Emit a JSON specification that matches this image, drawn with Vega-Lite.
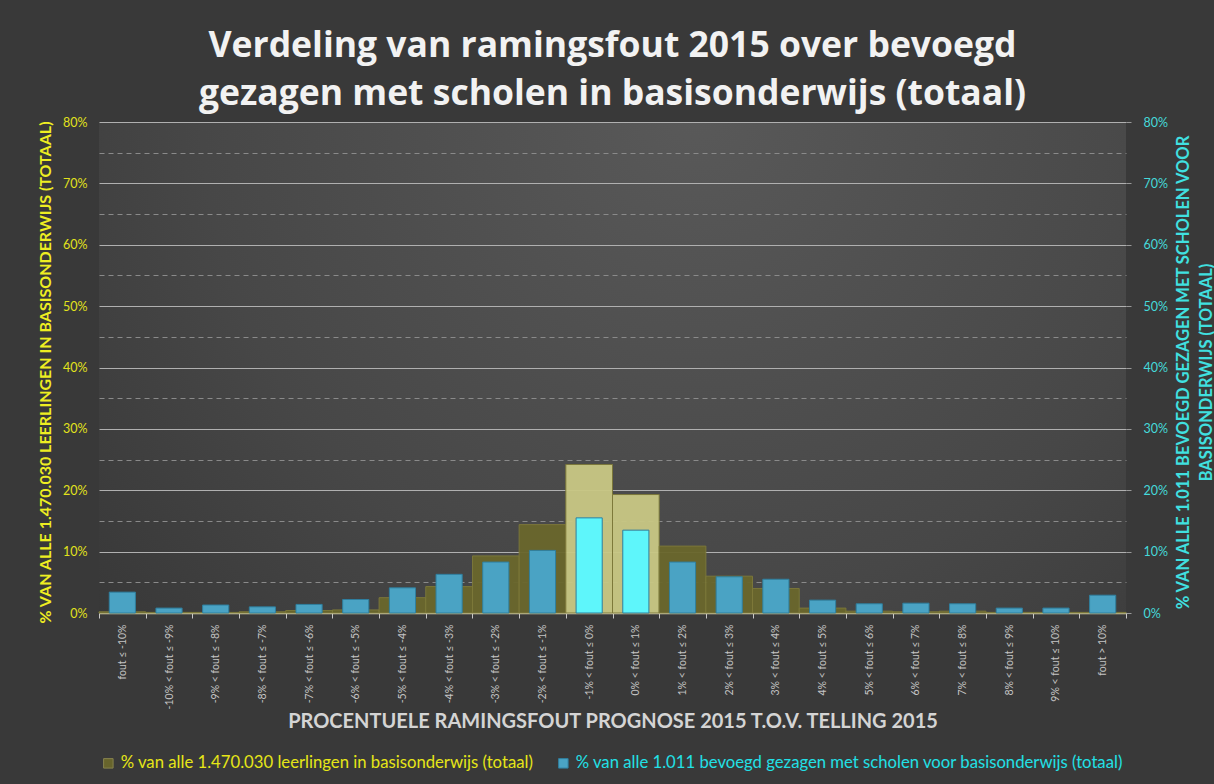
{
  "$schema": "https://vega.github.io/schema/vega-lite/v6.json",
  "width": 1027,
  "height": 491,
  "autosize": {"type": "none"},
  "padding": {"left": 99, "top": 122, "right": 88, "bottom": 171},
  "background": "#393939",
  "config": {
    "view": {
      "stroke": null,
      "fill": {
        "gradient": "radial",
        "x1": 0.58, "y1": 0.25, "r1": 0,
        "x2": 0.58, "y2": 0.25, "r2": 0.8,
        "stops": [
          {"offset": 0, "color": "#595959"},
          {"offset": 0.6, "color": "#474747"},
          {"offset": 1, "color": "#363636"}
        ]
      }
    },
    "font": "Lato"
  },
  "title": {
    "text": ["Verdeling van ramingsfout 2015 over bevoegd", "gezagen met scholen in basisonderwijs (totaal)"],
    "font": "Open Sans",
    "fontSize": 35.5,
    "fontWeight": "bold",
    "color": "#f2f2f2",
    "lineHeight": 48,
    "anchor": "middle",
    "frame": "group",
    "offset": 4
  },
  "data": {
    "values": [
      {"cat": "fout ≤ -10%", "leerlingen": 0.002, "gezagen": 0.034},
      {"cat": "-10% < fout ≤ -9%", "leerlingen": 0.001, "gezagen": 0.008},
      {"cat": "-9% < fout ≤ -8%", "leerlingen": 0.001, "gezagen": 0.013},
      {"cat": "-8% < fout ≤ -7%", "leerlingen": 0.002, "gezagen": 0.010},
      {"cat": "-7% < fout ≤ -6%", "leerlingen": 0.004, "gezagen": 0.014},
      {"cat": "-6% < fout ≤ -5%", "leerlingen": 0.005, "gezagen": 0.022},
      {"cat": "-5% < fout ≤ -4%", "leerlingen": 0.025, "gezagen": 0.041},
      {"cat": "-4% < fout ≤ -3%", "leerlingen": 0.043, "gezagen": 0.063},
      {"cat": "-3% < fout ≤ -2%", "leerlingen": 0.093, "gezagen": 0.083},
      {"cat": "-2% < fout ≤ -1%", "leerlingen": 0.144, "gezagen": 0.102},
      {"cat": "-1% < fout ≤ 0%", "leerlingen": 0.242, "gezagen": 0.155},
      {"cat": "0% < fout ≤ 1%", "leerlingen": 0.193, "gezagen": 0.135},
      {"cat": "1% < fout ≤ 2%", "leerlingen": 0.109, "gezagen": 0.083},
      {"cat": "2% < fout ≤ 3%", "leerlingen": 0.060, "gezagen": 0.059},
      {"cat": "3% < fout ≤ 4%", "leerlingen": 0.040, "gezagen": 0.055},
      {"cat": "4% < fout ≤ 5%", "leerlingen": 0.008, "gezagen": 0.021},
      {"cat": "5% < fout ≤ 6%", "leerlingen": 0.003, "gezagen": 0.015},
      {"cat": "6% < fout ≤ 7%", "leerlingen": 0.002, "gezagen": 0.016},
      {"cat": "7% < fout ≤ 8%", "leerlingen": 0.003, "gezagen": 0.015},
      {"cat": "8% < fout ≤ 9%", "leerlingen": 0.001, "gezagen": 0.008},
      {"cat": "9% < fout ≤ 10%", "leerlingen": 0.001, "gezagen": 0.008},
      {"cat": "fout > 10%", "leerlingen": 0.001, "gezagen": 0.029}
    ]
  },
  "encoding": {
    "x": {
      "field": "cat",
      "type": "nominal",
      "sort": null,
      "scale": {"paddingInner": 0, "paddingOuter": 0},
      "axis": {
        "title": "PROCENTUELE RAMINGSFOUT PROGNOSE 2015 T.O.V. TELLING 2015",
        "labelAngle": -90,
        "labelFont": "Lato",
        "labelFontSize": 10.5,
        "labelColor": "#c4c4c4",
        "labelPadding": 6,
        "labelLimit": 200,
        "tickBand": "extent",
        "ticks": true,
        "tickColor": "#c8c8c8",
        "tickSize": 5,
        "domainColor": "#d6d2b4",
        "domainWidth": 1.5,
        "titleFont": "Lato",
        "titleFontWeight": "bold",
        "titleFontSize": 20,
        "titleColor": "#d4d4d4",
        "titleY": 108,
        "titleBaseline": "middle"
      }
    }
  },
  "layer": [
    {
      "mark": {"type": "bar", "stroke": "#7e7a3a", "strokeWidth": 1, "opacity": 0.95},
      "encoding": {
        "y": {
          "field": "leerlingen",
          "type": "quantitative",
          "scale": {"domain": [0, 0.8], "nice": false},
          "axis": {
            "orient": "left",
            "values": [0, 0.05, 0.1, 0.15, 0.2, 0.25, 0.3, 0.35, 0.4, 0.45, 0.5, 0.55, 0.6, 0.65, 0.7, 0.75, 0.8],
            "format": ".0%",
            "labelExpr": "round(datum.value*100) % 10 === 0 ? datum.label : ''",
            "labelColor": "#e2e21c",
            "labelFont": "Lato",
            "labelFontSize": 12.5,
            "labelPadding": 12,
            "ticks": false,
            "domain": false,
            "grid": true,
            "gridColor": {"condition": {"test": "round(datum.value*100) % 10 === 0", "value": "#b0b0b0"}, "value": "#8a8a8a"},
            "gridDash": {"condition": {"test": "round(datum.value*100) % 10 === 0", "value": []}, "value": [5, 4]},
            "gridWidth": 1,
            "title": "% VAN ALLE 1.470.030 LEERLINGEN IN BASISONDERWIJS (TOTAAL)",
            "titleColor": "#eeee22",
            "titleFont": "Lato",
            "titleFontWeight": "bold",
            "titleFontSize": 16,
            "titleAngle": -90,
            "titleX": -54,
            "titleY": 250,
            "titleBaseline": "middle",
            "titleAlign": "center"
          }
        },
        "color": {
          "condition": {"test": "datum.cat === '-1% < fout ≤ 0%' || datum.cat === '0% < fout ≤ 1%'", "value": "#c9c884"},
          "datum": "% van alle 1.470.030 leerlingen in basisonderwijs (totaal)",
          "type": "nominal",
          "scale": {"range": ["#6a672c"]},
          "legend": {
            "orient": "none",
            "legendX": 1,
            "legendY": 633,
            "title": null,
            "labelColor": "#e6e617",
            "labelFont": "Lato",
            "labelFontSize": 16.7,
            "labelLimit": 600,
            "symbolType": "square",
            "symbolSize": 90,
            "symbolStrokeColor": "#8a8650",
            "symbolStrokeWidth": 1
          }
        }
      }
    },
    {
      "mark": {"type": "bar", "width": {"band": 0.56}, "stroke": "#2f7f9e", "strokeWidth": 1},
      "encoding": {
        "y": {
          "field": "gezagen",
          "type": "quantitative",
          "scale": {"domain": [0, 0.8], "nice": false},
          "axis": {
            "orient": "right",
            "values": [0, 0.1, 0.2, 0.3, 0.4, 0.5, 0.6, 0.7, 0.8],
            "format": ".0%",
            "labelColor": "#45dada",
            "labelFont": "Lato",
            "labelFontSize": 12.5,
            "labelPadding": 12,
            "ticks": true,
            "tickSize": 5,
            "tickColor": "#9a9a9a",
            "domain": false,
            "grid": false,
            "title": ["% VAN ALLE 1.011 BEVOEGD GEZAGEN MET SCHOLEN VOOR", "BASISONDERWIJS (TOTAAL)"],
            "titleColor": "#40e0e0",
            "titleFont": "Lato",
            "titleFontWeight": "bold",
            "titleFontSize": 16.5,
            "titleLineHeight": 23,
            "titleAngle": -90,
            "titleX": 57,
            "titleY": 250,
            "titleBaseline": "middle",
            "titleAlign": "center"
          }
        },
        "color": {
          "condition": {"test": "datum.cat === '-1% < fout ≤ 0%' || datum.cat === '0% < fout ≤ 1%'", "value": "#5ef6fb"},
          "datum": "% van alle 1.011 bevoegd gezagen met scholen voor basisonderwijs (totaal)",
          "type": "nominal",
          "scale": {"range": ["#4aa3c4"]},
          "legend": {
            "orient": "none",
            "legendX": 456,
            "legendY": 633,
            "title": null,
            "labelColor": "#22e0e6",
            "labelFont": "Lato",
            "labelFontSize": 16.7,
            "labelLimit": 700,
            "symbolType": "square",
            "symbolSize": 90,
            "symbolStrokeColor": "#2f7f9e",
            "symbolStrokeWidth": 1
          }
        }
      }
    }
  ],
  "resolve": {
    "scale": {"y": "independent", "color": "independent"},
    "axis": {"y": "independent"},
    "legend": {"color": "independent"}
  }
}
